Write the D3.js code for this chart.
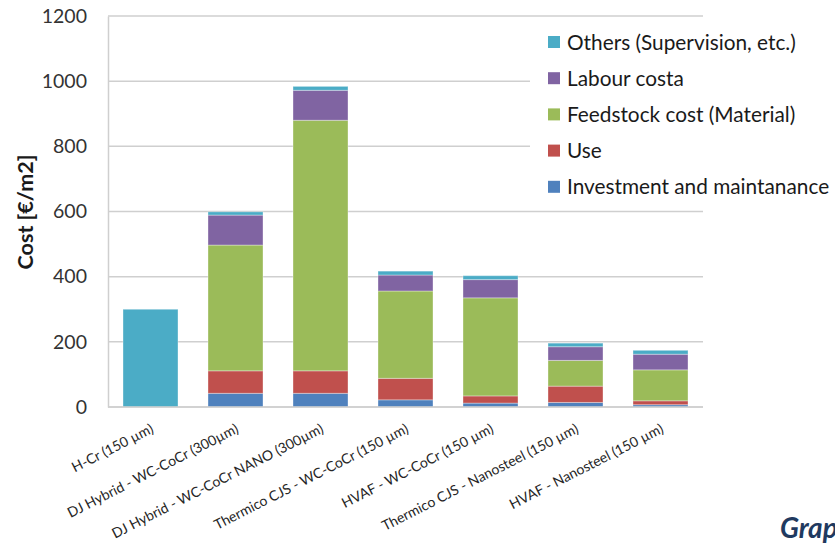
<!DOCTYPE html>
<html>
<head>
<meta charset="utf-8">
<script src="https://cdn.jsdelivr.net/npm/d3@7"></script>
<style>
  html, body { margin: 0; padding: 0; background: #fff; }
  svg { display: block; font-family: Lato, "Open Sans", sans-serif; }
</style>
</head>
<body>
<svg id="chart" width="835" height="550"></svg>
<script>
// Coating processes compared on the x axis
const categories = [
  "H-Cr (150 µm)",
  "DJ Hybrid - WC-CoCr (300µm)",
  "DJ Hybrid - WC-CoCr NANO (300µm)",
  "Thermico CJS - WC-CoCr (150 µm)",
  "HVAF - WC-CoCr (150 µm)",
  "Thermico CJS - Nanosteel (150 µm)",
  "HVAF -  Nanosteel (150 µm)"
];

// Cost components in €/m2, stacked bottom to top
const investment = [0, 42, 42, 22, 12, 14, 7];
const use        = [0, 69, 69, 66, 22, 50, 12];
const feedstock  = [0, 386, 769, 268, 301, 79, 95];
const labour     = [0, 92, 92, 49, 56, 42, 48];
const others     = [300, 10, 12, 12, 12, 11, 12];

const yTicks = [0, 200, 400, 600, 800, 1000, 1200];

const seriesNames = [
  "Investment and maintanance",
  "Use",
  "Feedstock cost (Material)",
  "Labour costa",
  "Others (Supervision, etc.)"
];
const seriesValues = [investment, use, feedstock, labour, others];
const seriesColors = ["#4f81bd", "#c0504d", "#9bbb59", "#8064a2", "#4bacc6"];

const rows = categories.map((c, i) => {
  const r = { category: c };
  seriesNames.forEach((s, k) => { r[s] = seriesValues[k][i]; });
  return r;
});

const svg = d3.select("#chart");
const plot = { left: 108, right: 703, top: 16, bottom: 407 };

const x = d3.scaleBand()
  .domain(categories)
  .range([plot.left, plot.right])
  .paddingInner(0.353)
  .paddingOuter(0.1765);

const y = d3.scaleLinear().domain([0, 1200]).range([plot.bottom, plot.top]);

// Horizontal gridlines
svg.append("g")
  .selectAll("line")
  .data(yTicks)
  .join("line")
  .attr("x1", plot.left)
  .attr("x2", plot.right)
  .attr("y1", d => y(d))
  .attr("y2", d => y(d))
  .attr("stroke", "#cfcfcf")
  .attr("stroke-width", 1.5);

// Y axis tick labels
const yAxis = d3.axisLeft(y)
  .tickValues(yTicks)
  .tickFormat(d3.format("d"))
  .tickSize(0)
  .tickPadding(21);
const yg = svg.append("g").attr("transform", `translate(${plot.left},0)`).call(yAxis);
yg.select(".domain").attr("stroke", "#cfcfcf").attr("stroke-width", 1.5);
yg.selectAll("text")
  .attr("font-family", "Lato, sans-serif")
  .attr("font-size", 19.5)
  .attr("fill", "#333");

// Y axis title
svg.append("text")
  .attr("transform", "translate(33,212) rotate(-90)")
  .attr("text-anchor", "middle")
  .attr("font-size", 21.5)
  .attr("font-weight", "bold")
  .attr("fill", "#1a1a1a")
  .text("Cost [€/m2]");

// Stacked bars
const stack = d3.stack().keys(seriesNames);
const layers = stack(rows);

svg.append("g")
  .selectAll("g")
  .data(layers)
  .join("g")
  .attr("fill", (d, i) => seriesColors[i])
  .selectAll("rect")
  .data(d => d.filter(p => p[1] - p[0] > 0))
  .join("rect")
  .attr("x", d => x(d.data.category))
  .attr("width", x.bandwidth())
  .attr("y", d => y(d[1]))
  .attr("height", d => y(d[0]) - y(d[1]))
  .attr("stroke", "rgba(255,255,255,0.35)")
  .attr("stroke-width", 1);

// X axis baseline
svg.append("line")
  .attr("x1", plot.left).attr("x2", plot.right)
  .attr("y1", y(0)).attr("y2", y(0))
  .attr("stroke", "#cfcfcf").attr("stroke-width", 1.5);

// Rotated category labels
svg.append("g")
  .selectAll("text")
  .data(categories)
  .join("text")
  .attr("transform", d => `translate(${x(d) + x.bandwidth() / 2 + 4},432) rotate(-27)`)
  .attr("text-anchor", "end")
  .attr("font-size", 14)
  .attr("fill", "#262626")
  .text(d => d);

// Legend (drawn over the gridlines on a white panel)
const legend = svg.append("g");
legend.append("rect")
  .attr("x", 530).attr("y", 22)
  .attr("width", 305).attr("height", 184)
  .attr("fill", "#fff");

const legendOrder = [4, 3, 2, 1, 0];
const items = legend.selectAll("g.item")
  .data(legendOrder)
  .join("g")
  .attr("class", "item")
  .attr("transform", (k, i) => `translate(548,${42 + i * 36.2})`);

items.append("rect")
  .attr("x", 0).attr("y", -6)
  .attr("width", 12).attr("height", 12)
  .attr("fill", k => seriesColors[k]);

items.append("text")
  .attr("x", 19)
  .attr("y", 0)
  .attr("dy", "0.36em")
  .attr("font-size", 20.8)
  .attr("fill", "#1a1a1a")
  .text(k => seriesNames[k]);

// Caption fragment at the lower right
svg.append("text")
  .attr("x", 780)
  .attr("y", 538)
  .attr("font-size", 28)
  .attr("font-weight", "bold")
  .attr("font-style", "italic")
  .attr("fill", "#1f3a60")
  .text("Graph");
</script>
</body>
</html>
